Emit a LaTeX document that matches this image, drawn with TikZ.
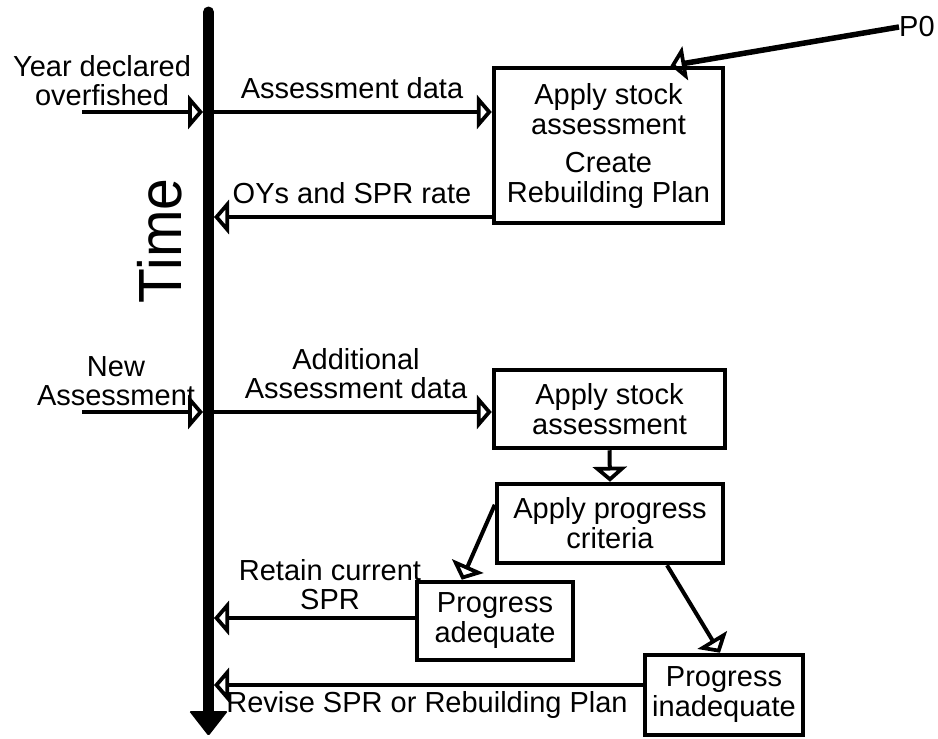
\documentclass[tikz,border=0pt]{standalone}
\usepackage{fontspec}
\setmainfont{Liberation Sans}
\newfontfamily\timefont{Liberation Sans}
\usetikzlibrary{arrows.meta,calc}
\begin{document}
\begin{tikzpicture}[x=1pt,y=-1pt,
  box/.style={draw, line width=4.5pt, inner sep=0pt, align=center, font=\fontsize{29}{30}\selectfont},
  lbl/.style={inner sep=0pt, align=center, font=\fontsize{29}{29}\selectfont},
  conn/.style={line width=4pt, -{Triangle[open, length=15pt, width=34pt, line width=4.2pt]}}]
\useasboundingbox (0,0) rectangle (938,739);
% boxes
\node[box, minimum width=229pt, minimum height=155pt] (b1) at (608.5,145.5) {Apply stock\\assessment\\[8pt]Create\\Rebuilding Plan};
\node[box, minimum width=231pt, minimum height=78pt] (b2) at (609.5,409) {Apply stock\\assessment};
\node[box, minimum width=226pt, minimum height=79pt] (b3) at (610,523.5) {Apply progress\\criteria};
\node[box, minimum width=156pt, minimum height=78pt] (b4) at (495,621) {Progress\\adequate};
\node[box, minimum width=158pt, minimum height=80pt] (b5) at (724,695) {Progress\\inadequate};
% labels
\node[lbl] (lyear) at (102,81) {Year declared\\overfished};
\node[lbl] (lad) at (352,88) {Assessment data};
\node[lbl] (loy) at (352,193) {OYs and SPR rate};
\node[lbl] (lnew) at (116,381) {New\\Assessment};
\node[lbl] (ladd) at (356,374) {Additional\\Assessment data};
\node[lbl] (lret) at (330,585) {Retain current\\SPR};
\node[lbl] (lrev) at (427,705) {Revise SPR or Rebuilding Plan};
\node[lbl, anchor=west] (p0) at (899,27) {P0};
\node[inner sep=0pt] (time) at (160,241) {\rotatebox{90}{\scalebox{1}[1.07]{\timefont\fontsize{57}{60}\selectfont Time}}};
% coordinates
\coordinate (in1) at (82,112);
\coordinate (t1L) at (203,112);
\coordinate (t1) at (208.5,112);
\coordinate (t2R) at (214,217);
\coordinate (in2) at (82,412);
\coordinate (t3L) at (203,412);
\coordinate (t3) at (208.5,412);
\coordinate (t4R) at (214,618);
\coordinate (t5R) at (214,685);
% connectors
\draw[conn] (in1) -- (t1L);
\draw[conn] (t1) -- (t1 -| b1.west);
\draw[conn] (b1.west |- t2R) -- (t2R);
\draw[conn] (in2) -- (t3L);
\draw[conn] (t3) -- (t3 -| b2.west);
\draw[conn] (b2.south) -- (b3.north);
\draw[conn] ($(b3.north west)+(0,23)$) -- ($(b4.north west)+(47,0)$);
\draw[conn] ($(b3.south)+(57,0)$) -- ($(b5.north)+(-4,0)$);
\draw[conn] (b4.west |- t4R) -- (t4R);
\draw[conn] (b5.west |- t5R) -- (t5R);
\draw[conn, line width=5.5pt] (p0.west) -- ($(b1.north)+(62,0)$);
% time bar
\draw[line width=11pt, line cap=round] (208.5,12) -- (208.5,714);
\fill[rounded corners=1.5pt] (189,711) -- (228,711) -- (208.5,736) -- cycle;
\end{tikzpicture}
\end{document}
